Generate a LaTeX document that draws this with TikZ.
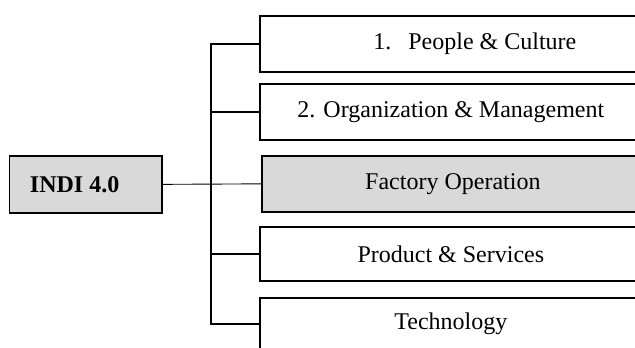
\documentclass[tikz,border=0pt]{standalone}
\usepackage{fontspec}
\setmainfont{Liberation Serif}
\definecolor{boxgray}{HTML}{D9D9D9}
\begin{document}
\begin{tikzpicture}[x=0.5pt,y=-0.5pt,
  every node/.style={font=\fontsize{12}{14}\selectfont},
  itembox/.style={draw=black,line width=0.85pt,rectangle,inner sep=0pt,
    anchor=north west,minimum width=210pt,minimum height=28pt,
    execute at end node=\hspace*{19pt}},
  rootbox/.style={draw=black,line width=0.85pt,rectangle,inner sep=0pt,
    anchor=north west,fill=boxgray,minimum width=76.25pt,minimum height=28.5pt,
    font=\fontsize{12}{14}\selectfont\bfseries},
  shaded/.style={fill=boxgray},
  trunkline/.style={line width=0.75pt},
  thinline/.style={line width=0.45pt}]
  \useasboundingbox (0,0) rectangle (635,347);
  \clip (0,0) rectangle (635,347);

  % root box
  \node[rootbox] (indi) at (8.5,155) {INDI 4.0\hspace*{11pt}};

  % dimension boxes, running past the right edge of the page
  \node[itembox] (people) at (259,15) {\hspace*{24pt}1.\hspace{8.5pt}People \& Culture};
  \node[itembox] (org) at (259,83) {2. Organization \& Management};
  \node[itembox,shaded] (factory) at (261,155) {Factory Operation};
  \node[itembox,minimum height=27pt] (product) at (259,226) {Product \& Services};
  \node[itembox,minimum height=26pt] (tech) at (259,297) {Technology};

  % tree connectors
  \coordinate (trunk) at (211,0);
  \draw[trunkline] (people.west) -- (people.west -| trunk) |- (tech.west);
  \draw[trunkline] (org.west) -- (org.west -| trunk);
  \draw[trunkline] (product.west) -- (product.west -| trunk);
  \draw[thinline] (indi.east) -- (factory.west);
\end{tikzpicture}
\end{document}
